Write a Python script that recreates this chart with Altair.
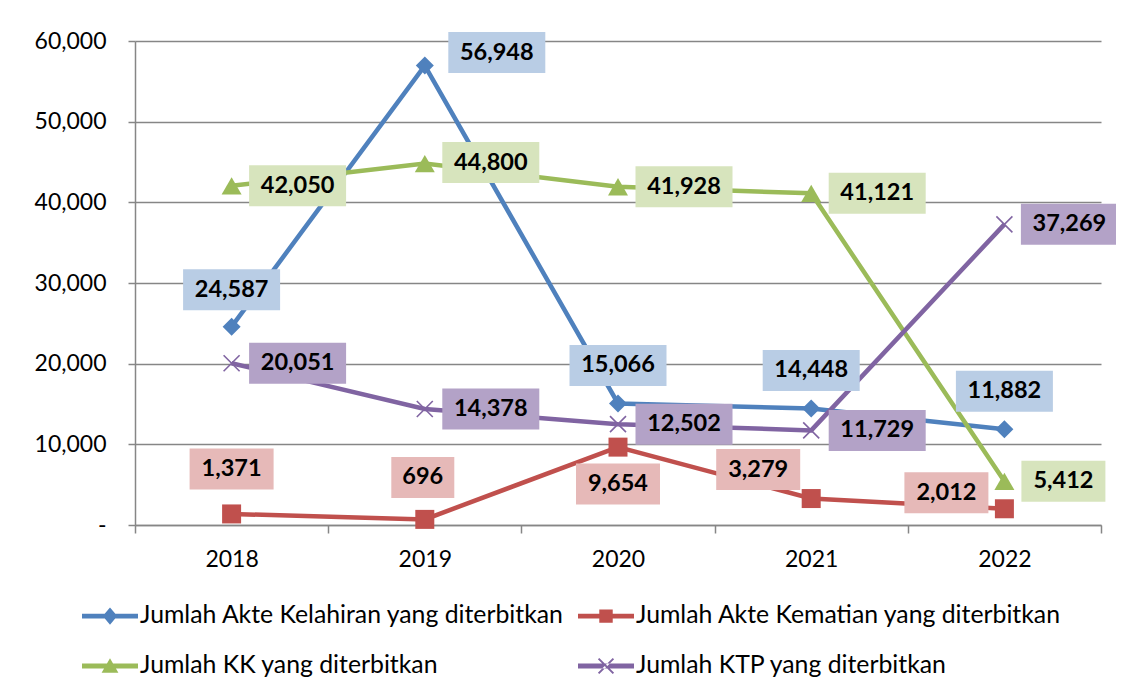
import altair as alt
import pandas as pd

# ---------------- data ----------------
years = ["2018", "2019", "2020", "2021", "2022"]
series_names = [
    "Jumlah Akte Kelahiran yang diterbitkan",
    "Jumlah Akte Kematian yang diterbitkan",
    "Jumlah KK yang diterbitkan",
    "Jumlah KTP yang diterbitkan",
]
akte_kelahiran = [24587, 56948, 15066, 14448, 11882]
akte_kematian = [1371, 696, 9654, 3279, 2012]
jumlah_kk = [42050, 44800, 41928, 41121, 5412]
jumlah_ktp = [20051, 14378, 12502, 11729, 37269]
y_ticks = [0, 10000, 20000, 30000, 40000, 50000, 60000]

all_values = [akte_kelahiran, akte_kematian, jumlah_kk, jumlah_ktp]

# ---------------- styles ----------------
line_colors = ["#4F81BD", "#C0504D", "#9BBB59", "#8064A2"]
box_colors = ["#B9CDE5", "#E6B9B8", "#D7E4BD", "#B3A2C7"]
# pixel offsets of each data label (box centre) from its point
label_offsets = [
    [(0, -37), (72, -13), (0, -38), (0, -38), (0, -38)],
    [(0, -45), (-2, -42), (0, 37), (-53, -29), (-58, -16)],
    [(66, 0), (66, -1), (66, 0), (66, 0), (59, 0)],
    [(66, 0), (66, 0), (66, 0), (66, 0), (65, 0)],
]
box_half_width = {3: 0.63, 4: 0.72, 5: 0.84, 6: 0.97}  # units of 50px
marker_defs = [
    dict(shape="diamond", filled=True, size=324, strokeWidth=0),
    dict(shape="square", filled=True, size=361, strokeWidth=0),
    dict(shape="triangle-up", filled=True, size=400, strokeWidth=0),
    dict(shape="M-1,-1L1,1M-1,1L1,-1", filled=False, size=256, strokeWidth=1.6),
]
bar = "M-1,-0.085L1,-0.085L1,0.085L-1,0.085Z"
legend_paths = [
    bar + "M0,-0.31L0.26,0L0,0.31L-0.26,0Z",
    bar + "M-0.24,-0.24L0.24,-0.24L0.24,0.24L-0.24,0.24Z",
    bar + "M0,-0.28L0.3,0.24L-0.3,0.24Z",
    bar + "M-0.29,-0.24L-0.24,-0.29L0.29,0.24L0.24,0.29Z"
          "M-0.29,0.24L-0.24,0.29L0.29,-0.24L0.24,-0.29Z",
]
FONT = "Lato"
GREY = "#868686"

rows = []
for s, vals in zip(series_names, all_values):
    for y, v in zip(years, vals):
        rows.append({"series": s, "year": y, "value": v})
df = pd.DataFrame(rows)

x_enc = alt.X(
    "year:O", sort=years, bandPosition=0.5,
    scale=alt.Scale(type="band", paddingInner=0, paddingOuter=0),
    axis=alt.Axis(title=None, labelAngle=0, tickBand="extent", tickSize=8,
                  labelPadding=15, grid=False, labelFont=FONT, labelFontSize=23,
                  labelColor="black", domainColor=GREY, tickColor=GREY,
                  domainWidth=1.5, tickWidth=1.5),
)
y_enc = alt.Y(
    "value:Q",
    scale=alt.Scale(domain=[0, 60000], nice=False),
    axis=alt.Axis(title=None, values=y_ticks, tickSize=7, labelPadding=22,
                  labelExpr="datum.value == 0 ? '-' : format(datum.value, ',')",
                  grid=True, gridColor=GREY, gridWidth=1.5,
                  labelFont=FONT, labelFontSize=23, labelColor="black",
                  domainColor=GREY, tickColor=GREY, domainWidth=1.5, tickWidth=1.5),
)
color_scale = alt.Scale(domain=series_names, range=line_colors)

base = alt.Chart(df)
layers = []
for i, s in enumerate(series_names):
    layers.append(
        base.transform_filter(alt.datum.series == s)
        .mark_line(strokeWidth=4.5, color=line_colors[i])
        .encode(x=x_enc, y=y_enc)
    )
for i, s in enumerate(series_names):
    layers.append(
        base.transform_filter(alt.datum.series == s)
        .mark_point(opacity=1, color=line_colors[i], **marker_defs[i])
        .encode(x=x_enc, y=y_enc)
    )
for i, s in enumerate(series_names):
    for j, yr in enumerate(years):
        dx, dy = label_offsets[i][j]
        n = len(f"{all_values[i][j]:,}")
        hw = box_half_width[n]
        path = f"M{-hw},-0.41L{hw},-0.41L{hw},0.41L{-hw},0.41Z"
        sub = base.transform_filter((alt.datum.series == s) & (alt.datum.year == yr))
        layers.append(
            sub.mark_point(shape=path, size=10000, filled=True, color=box_colors[i],
                           strokeWidth=0, opacity=1, xOffset=dx, yOffset=dy)
            .encode(x=x_enc, y=y_enc)
        )
        layers.append(
            sub.mark_text(font=FONT, fontWeight="bold", fontSize=23.5, color="black",
                          dx=dx, dy=dy, align="center", baseline="middle")
            .encode(x=x_enc, y=y_enc, text=alt.Text("value:Q", format=","))
        )

legend_obj = alt.Legend(
    title=None, orient="none", legendX=-53, legendY=547, columns=2,
    direction="horizontal",
    columnPadding=13, rowPadding=10, labelFont=FONT, labelFontSize=24.8,
    labelColor="black", labelLimit=800, symbolSize=3136, symbolStrokeWidth=0,
    symbolOpacity=1, labelOffset=2,
)
layers.append(
    base.transform_filter("false")
    .mark_point(filled=True, opacity=1, strokeWidth=0)
    .encode(
        x=x_enc, y=y_enc,
        color=alt.Color("series:N", scale=color_scale, legend=legend_obj),
        shape=alt.Shape("series:N",
                        scale=alt.Scale(domain=series_names, range=legend_paths),
                        legend=legend_obj),
    )
)

chart = (
    alt.layer(*layers)
    .properties(
        width=966, height=484,
        padding={"left": 127, "top": 33, "right": 15, "bottom": 160},
        autosize=alt.AutoSizeParams(type="none"),
        background="white",
    )
    .configure_view(stroke=None)
)

chart.save("out.html", embed_options={"renderer": "svg", "actions": False})
